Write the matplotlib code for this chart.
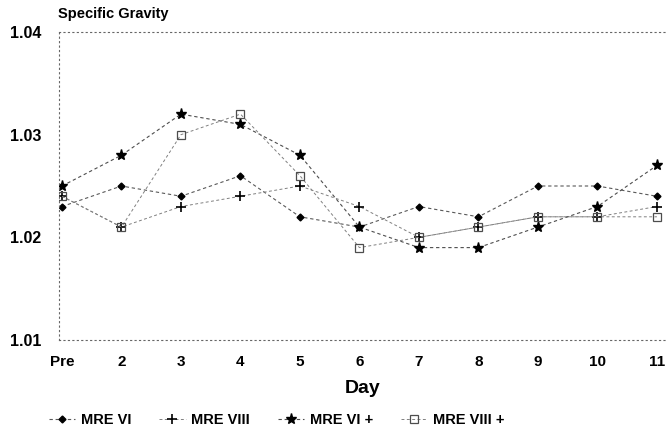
import matplotlib
matplotlib.use("Agg")
import matplotlib.pyplot as plt

days = ["Pre", "2", "3", "4", "5", "6", "7", "8", "9", "10", "11"]
mre_vi = [1.023, 1.025, 1.024, 1.026, 1.022, 1.021, 1.023, 1.022, 1.025, 1.025, 1.024]
mre_viii = [1.024, 1.021, 1.023, 1.024, 1.025, 1.023, 1.020, 1.021, 1.022, 1.022, 1.023]
mre_vi_plus = [1.025, 1.028, 1.032, 1.031, 1.028, 1.021, 1.019, 1.019, 1.021, 1.023, 1.027]
mre_viii_plus = [1.024, 1.021, 1.030, 1.032, 1.026, 1.019, 1.020, 1.021, 1.022, 1.022, 1.022]
yticks = [1.01, 1.02, 1.03, 1.04]

plt.rcParams['font.family'] = ['Liberation Sans', 'DejaVu Sans']

fig = plt.figure(figsize=(6.67, 4.45), dpi=100)
ax = fig.add_axes([59/667, 1-340/445, 1-59/667, (340-32)/445])

x = list(range(len(days)))
ls = (0, (3, 2.5))
ax.plot(x, mre_vi, color='0.35', ls=ls, lw=0.8, marker='D', ms=3.5, mfc='k', mec='k', label='MRE VI')
ax.plot(x, mre_viii, color='0.5', ls=ls, lw=0.7, marker='+', ms=7, mew=1.2, mec='k', label='MRE VIII')
ax.plot(x, mre_vi_plus, color='0.3', ls=ls, lw=0.8, marker='*', ms=8, mfc='k', mec='k', label='MRE VI +')
ax.plot(x, mre_viii_plus, color='0.5', ls=ls, lw=0.7, marker='s', ms=5.5, mfc='none', mec='0.3', mew=0.9, label='MRE VIII +')

ax.set_xlim(-0.05, 10.17)
ax.set_ylim(1.01, 1.04)
ax.set_xticks(x)
ax.set_xticklabels(days, fontsize=11, fontweight='bold')
ax.set_yticks(yticks)
ax.set_yticklabels(["%.2f" % v for v in yticks], fontsize=11.5, fontweight='bold')
ax.tick_params(axis='x', length=0, pad=11)
ax.tick_params(axis='y', length=0, pad=13)

for s in ['left', 'bottom', 'top']:
    ax.spines[s].set_linestyle((0, (1, 3)))
    ax.spines[s].set_color('0.4')
    ax.spines[s].set_linewidth(0.8)
ax.spines['right'].set_visible(False)

ax.set_xlabel("Day", fontsize=14, fontweight='bold', labelpad=8)
fig.text(58/667, 1-14/445, "Specific Gravity", fontsize=10.5, fontweight='bold', va='center', ha='left')

fig.legend(loc='center', bbox_to_anchor=(0.415, 1-420/445), ncol=4, frameon=False,
           handlelength=1.8, columnspacing=1.9, handletextpad=0.4,
           prop={'weight': 'bold', 'size': 10.5})

plt.savefig("out.png", dpi=100)
